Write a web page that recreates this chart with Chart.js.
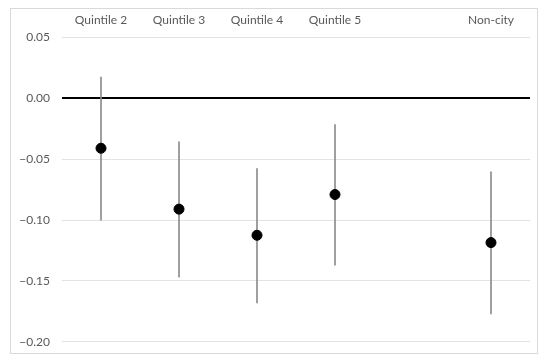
<!DOCTYPE html>
<html>
<head>
<meta charset="utf-8">
<script src="https://cdn.jsdelivr.net/npm/chart.js@4/dist/chart.umd.min.js"></script>
<style>
  html, body { margin: 0; padding: 0; background: #fff; }
  #wrap { width: 550px; height: 361px; }
</style>
</head>
<body>
<div id="wrap"><canvas id="c" width="550" height="361"></canvas></div>
<script>
// ── Data ─────────────────────────────────────────────────
const categories = ['Quintile 2', 'Quintile 3', 'Quintile 4', 'Quintile 5', '', 'Non-city'];
const estimates  = [-0.041, -0.091, -0.1125, -0.079, null, -0.1185];
const ciLower    = [-0.100, -0.147, -0.168, -0.137, null, -0.177];
const ciUpper    = [0.0175, -0.0357, -0.0576, -0.0216, null, -0.0603];
const yTicks     = [0.05, 0.00, -0.05, -0.10, -0.15, -0.20];

const textColor = '#595959';
const gridColor = '#e3e3e3';
const font = { family: 'Lato, "Open Sans", sans-serif', size: 12 };

// outer chart frame like the spreadsheet export
const framePlugin = {
  id: 'frame',
  beforeDraw(chart) {
    const { ctx } = chart;
    ctx.save();
    ctx.fillStyle = '#fff';
    ctx.fillRect(0, 0, chart.width, chart.height);
    ctx.strokeStyle = '#d9d9d9';
    ctx.lineWidth = 1;
    ctx.strokeRect(10.5, 8.5, 527, 345);
    ctx.restore();
  },
};

const fmt = (v) => {
  if (Math.abs(v) < 1e-9) return '0.00';
  const s = Math.abs(v).toFixed(2);
  return v < 0 ? '\u2212' + s : s;
};

new Chart(document.getElementById('c'), {
  data: {
    labels: categories,
    datasets: [
      {
        type: 'line',
        label: 'Estimate',
        data: estimates,
        showLine: false,
        pointRadius: 5,
        pointHoverRadius: 5,
        pointBackgroundColor: '#000',
        pointBorderColor: '#000',
        order: 0,
      },
      {
        type: 'bar',
        label: 'CI',
        data: ciLower.map((lo, i) => (lo === null ? null : [lo, ciUpper[i]])),
        backgroundColor: '#8c8c8c',
        borderWidth: 0,
        barThickness: 1,
        order: 1,
      },
    ],
  },
  options: {
    responsive: false,
    animation: false,
    layout: { padding: { left: 0, right: 20, top: 0, bottom: 19 } },
    plugins: {
      legend: { display: false },
      tooltip: { enabled: false },
    },
    scales: {
      x: {
        position: 'top',
        grid: { display: false, drawTicks: false },
        border: { display: false },
        ticks: { color: textColor, font, padding: 10, maxRotation: 0 },
        afterFit(axis) { axis.height = 37.5; },
      },
      y: {
        min: -0.2,
        max: 0.05,
        afterBuildTicks(axis) { axis.ticks = yTicks.map((v) => ({ value: v })); },
        grid: {
          drawTicks: false,
          color: (c) => (c.tick && Math.abs(c.tick.value) < 1e-9 ? '#000' : gridColor),
          lineWidth: (c) => (c.tick && Math.abs(c.tick.value) < 1e-9 ? 2 : 1),
        },
        border: { display: false },
        ticks: { color: textColor, font, padding: 12, callback: (v) => fmt(v) },
        afterFit(axis) { axis.width = 62; },
      },
    },
  },
  plugins: [framePlugin],
});
</script>
</body>
</html>
